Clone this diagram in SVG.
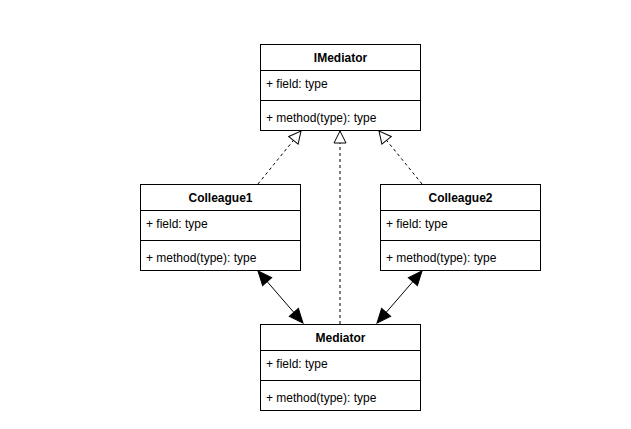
<svg xmlns="http://www.w3.org/2000/svg" width="631" height="429" viewBox="0 0 631 429">
<style>
.box{fill:#fff;stroke:#000;stroke-width:1}
.sep{stroke:#000;stroke-width:1}
.t{font-family:"Liberation Sans",Arial,sans-serif;font-size:12px;fill:#000}
.h{font-weight:bold;text-anchor:middle}
.dash{fill:none;stroke:#000;stroke-width:1;stroke-dasharray:3,3}
.solid{fill:none;stroke:#000;stroke-width:1}
</style>
<defs>
<marker id="tri" viewBox="0 0 14 14" refX="13" refY="7" markerWidth="14" markerHeight="14" markerUnits="userSpaceOnUse" orient="auto">
<path d="M1,1 L13,7 L1,13 Z" fill="#fff" stroke="#000" stroke-width="1" stroke-dasharray="none"/>
</marker>
<marker id="fill" viewBox="0 0 16 14" refX="15" refY="7" markerWidth="16" markerHeight="14" markerUnits="userSpaceOnUse" orient="auto-start-reverse">
<path d="M1,1 L15,7 L1,13 Z" fill="#000" stroke="#000" stroke-width="1"/>
</marker>
</defs>
<rect width="631" height="429" fill="#fff"/>
<g id="connectors">
<path class="dash" d="M258,184 L301,131" marker-end="url(#tri)"/>
<path class="dash" d="M422,184 L379,131" marker-end="url(#tri)"/>
<path class="dash" d="M340,324 L340,131" marker-end="url(#tri)"/>
<path class="solid" d="M258,271 L303,323" marker-start="url(#fill)" marker-end="url(#fill)"/>
<path class="solid" d="M422,271 L377,323" marker-start="url(#fill)" marker-end="url(#fill)"/>
</g>
<g id="IMediator">
<rect class="box" x="260.5" y="44.5" width="160" height="86"/>
<line class="sep" x1="260.5" y1="70.5" x2="420.5" y2="70.5"/>
<line class="sep" x1="260.5" y1="100.5" x2="420.5" y2="100.5"/>
<text class="t h" x="340.5" y="62">IMediator</text>
<text class="t" x="266" y="88">+ field: type</text>
<text class="t" x="266" y="122">+ method(type): type</text>
</g>
<g id="Colleague1">
<rect class="box" x="140.5" y="184.5" width="160" height="86"/>
<line class="sep" x1="140.5" y1="210.5" x2="300.5" y2="210.5"/>
<line class="sep" x1="140.5" y1="240.5" x2="300.5" y2="240.5"/>
<text class="t h" x="220.5" y="202">Colleague1</text>
<text class="t" x="146" y="228">+ field: type</text>
<text class="t" x="146" y="262">+ method(type): type</text>
</g>
<g id="Colleague2">
<rect class="box" x="380.5" y="184.5" width="160" height="86"/>
<line class="sep" x1="380.5" y1="210.5" x2="540.5" y2="210.5"/>
<line class="sep" x1="380.5" y1="240.5" x2="540.5" y2="240.5"/>
<text class="t h" x="460.5" y="202">Colleague2</text>
<text class="t" x="386" y="228">+ field: type</text>
<text class="t" x="386" y="262">+ method(type): type</text>
</g>
<g id="Mediator">
<rect class="box" x="260.5" y="324.5" width="160" height="86"/>
<line class="sep" x1="260.5" y1="350.5" x2="420.5" y2="350.5"/>
<line class="sep" x1="260.5" y1="380.5" x2="420.5" y2="380.5"/>
<text class="t h" x="340.5" y="342">Mediator</text>
<text class="t" x="266" y="368">+ field: type</text>
<text class="t" x="266" y="402">+ method(type): type</text>
</g>
</svg>
